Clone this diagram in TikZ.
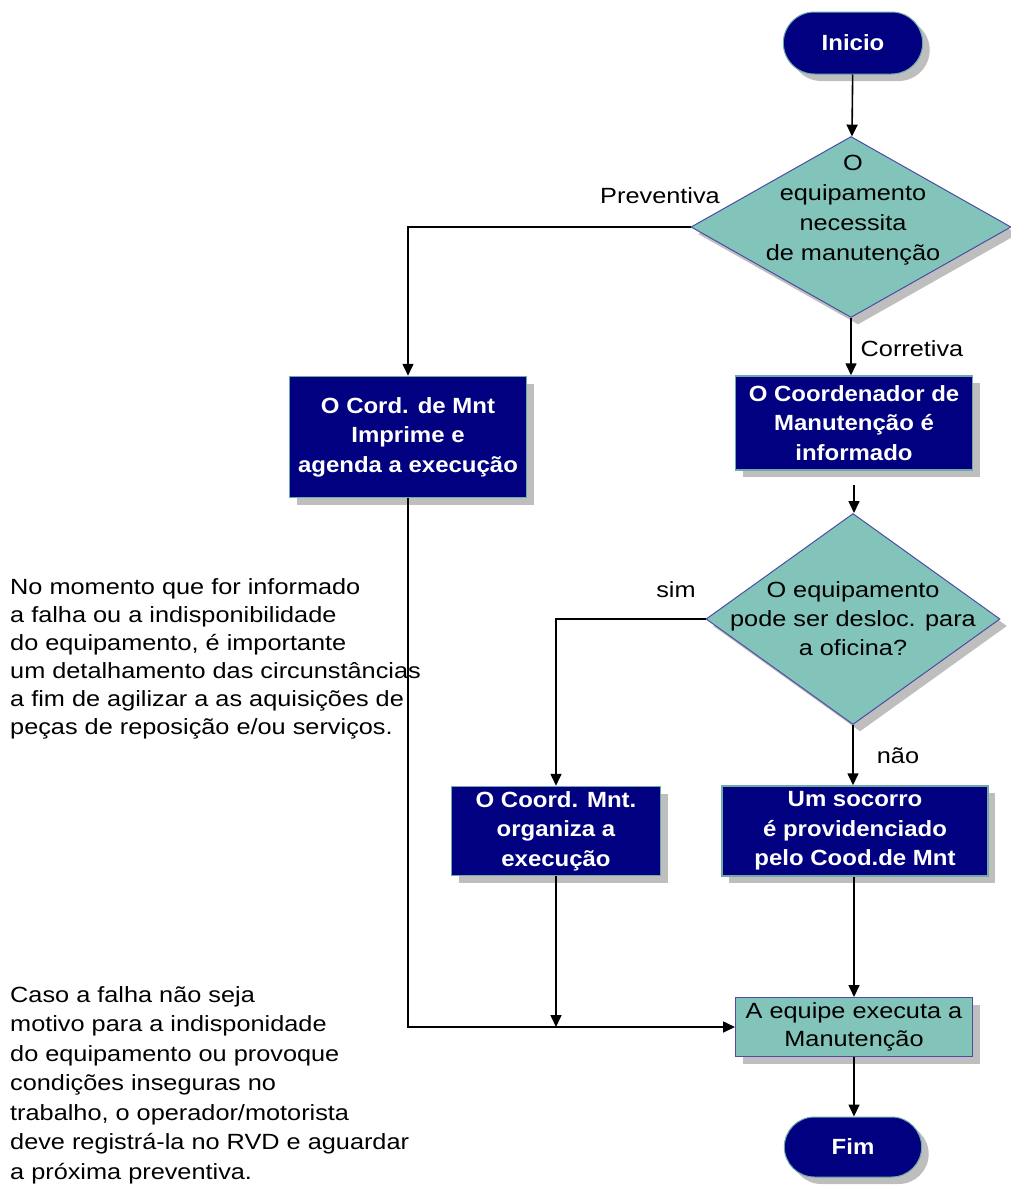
\documentclass[tikz,border=0pt]{standalone}
\usepackage{fontspec}
\setmainfont{Liberation Sans}
\newfontfamily\widefont[FakeStretch=1.15]{Liberation Sans}
\newfontfamily\wideboldfont[FakeStretch=1.09]{Liberation Sans}
\usetikzlibrary{shapes.geometric,shapes.misc,arrows.meta,shadows}
\definecolor{navyfill}{RGB}{0,0,128}
\definecolor{tealfill}{RGB}{130,196,186}
\definecolor{tealedge}{RGB}{110,170,168}
\definecolor{shadowgray}{RGB}{190,190,190}

\begin{document}
\begin{tikzpicture}[x=1pt,y=-1pt,
            boxshadow/.style={drop shadow={shadow xshift=7pt,shadow yshift=-7pt,fill=shadowgray,opacity=1}},
            terminal/.style={rounded rectangle, fill=navyfill, draw=tealedge, line width=1pt,
                text=white, font=\wideboldfont\fontsize{22}{25}\selectfont\bfseries,
                minimum width=146pt, minimum height=62pt, boxshadow},
            procbox/.style={rectangle, fill=navyfill, draw=tealedge, line width=1.5pt, inner sep=0pt,
                text=white, align=center, font=\wideboldfont\fontsize{22}{29.5}\selectfont\bfseries, boxshadow},
            execbox/.style={rectangle, fill=tealfill, draw=navyfill!70, line width=1pt, inner sep=0pt,
                text=black, align=center, font=\widefont\fontsize{22}{28}\selectfont, boxshadow},
            decision/.style={diamond, fill=tealfill, draw=navyfill!70, line width=1pt, inner sep=0pt, boxshadow},
            dectext/.style={align=center, inner sep=0pt, font=\widefont\fontsize{22}{30}\selectfont},
            lbl/.style={inner sep=0pt, font=\widefont\fontsize{22}{25}\selectfont},
            note/.style={anchor=north west, align=left, inner sep=0pt},
            flow/.style={line width=1.6pt, -{Triangle[length=12pt,width=11pt]}}
            ]
            \useasboundingbox (0,0) rectangle (1011,1191);
            % right column
            \node[terminal] (start) at (853,43) {Inicio};
            \node[decision, minimum width=320pt, minimum height=181pt] (d1) at (851,227) {};
            \node[dectext] (d1text) at (853,210) {O\\equipamento\\necessita\\de manutenção};
            \node[procbox, minimum width=237pt, minimum height=94pt] (coord) at (854,423)
                {O Coordenador de\\Manutenção é\\informado};
            \node[decision, minimum width=294pt, minimum height=211pt] (d2) at (853,619) {};
            \node[dectext, font=\widefont\fontsize{22}{29}\selectfont] (d2text) at (853,619)
                {O equipamento\\pode ser desloc. para\\a oficina?};
            \node[procbox, minimum width=266pt, minimum height=90pt] (socorro) at (855,831)
                {Um socorro\\é providenciado\\pelo Cood.de Mnt};
            \node[execbox, minimum width=237pt, minimum height=59pt] (exec) at (854,1027)
                {A equipe executa a\\Manutenção};
            \node[terminal, minimum width=144pt, minimum height=60pt] (fim) at (853,1147) {Fim};
            % left column
            \node[procbox, minimum width=237pt, minimum height=121pt] (cord) at (408,437)
                {O Cord. de Mnt\\Imprime e\\agenda a execução};
            \node[procbox, minimum width=209pt, minimum height=89pt] (mnt) at (556,831)
                {O Coord. Mnt.\\organiza a\\execução};
            % connectors
            \draw[flow] (start) -- (d1);
            \draw[flow] (d1.west) -| (cord.north);
            \draw[flow] (d1.south) -- (d1.south |- coord.north);
            \draw[flow, shorten <=14pt] (coord.south) -- (coord.south |- d2.north);
            \draw[flow] (d2.west) -| (mnt.north);
            \draw[flow] (d2.south) -- (d2.south |- socorro.north);
            \draw[flow] (cord.south) |- (exec.west);
            \draw[flow] (mnt.south) -- (mnt.south |- exec.west);
            \draw[flow] (socorro.south -| exec.north) -- (exec.north);
            \draw[flow] (exec.south) -- (exec.south |- fim.north);
            % branch labels
            \node[lbl] (lprev) at (660,196) {Preventiva};
            \node[lbl] (lcorr) at (912,349) {Corretiva};
            \node[lbl] (lsim) at (676,590) {sim};
            \node[lbl] (lnao) at (898,756) {não};
            % notes
            \node[note, font=\widefont\fontsize{22}{28}\selectfont] (note1) at (10,578)
                {No momento que for informado\\a falha ou a indisponibilidade\\do equipamento, é importante\\um detalhamento das circunstâncias\\a fim de agilizar a as aquisições de\\peças de reposição e/ou serviços.};
            \node[note, font=\widefont\fontsize{22}{29.5}\selectfont] (note2) at (10,986)
                {Caso a falha não seja\\motivo para a indisponidade\\do equipamento ou provoque\\condições inseguras no\\trabalho, o operador/motorista\\deve registrá-la no RVD e aguardar\\a próxima preventiva.};
\end{tikzpicture}
\end{document}
